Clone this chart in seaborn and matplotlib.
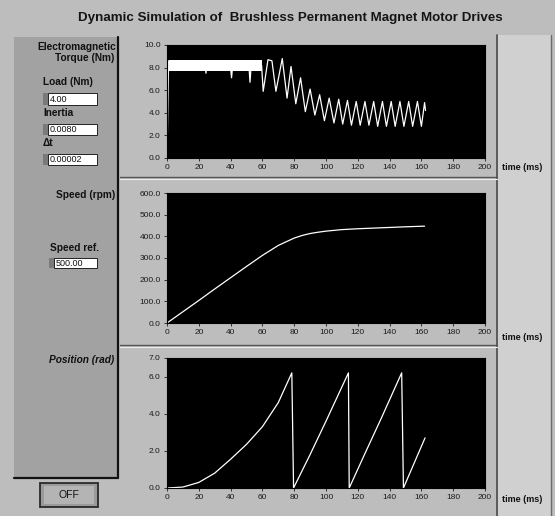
import matplotlib
matplotlib.use("Agg")
import matplotlib.pyplot as plt
import seaborn as sns
from matplotlib.patches import Rectangle

sns.set_style("ticks")
plt.rcParams['font.family'] = ['Liberation Sans', 'DejaVu Sans']

W, H = 555, 516

# ---- data ----
# electromagnetic torque (Nm) vs time (ms)
torque_t = [0.0, 1.0, 24.0, 24.5, 25.0, 39.8, 40.6, 41.4, 51.5, 52.2, 53.0, 59.5,
            60.5, 63.5, 66.0, 68.5, 72.5, 75.5, 78.0, 81.0, 84.0, 87.0, 90.0,
            93.0, 96.0, 99.0, 102.0, 105.0, 108.0, 110.5, 113.5, 116.0, 119.0,
            121.5, 124.5, 127.0, 130.0, 132.5, 135.5, 138.0, 141.0, 143.5, 146.5,
            149.0, 152.0, 154.5, 157.5, 160.0, 162.0, 162.6]
torque_v = [0.0, 8.6, 8.2, 7.5, 8.3, 8.2, 7.1, 8.3, 8.2, 6.7, 8.3, 8.2,
            5.9, 8.7, 8.6, 5.9, 8.8, 5.3, 8.1, 4.8, 7.1, 4.1, 6.1,
            3.8, 5.6, 3.3, 5.3, 3.1, 5.2, 3.0, 5.1, 2.9, 5.0,
            2.9, 5.0, 2.9, 5.0, 2.8, 5.0, 2.8, 5.0, 2.8, 5.0,
            2.8, 5.0, 2.8, 5.0, 2.8, 4.9, 4.2]
# hysteresis chopping band during acceleration
band_t = [1.0, 59.5]
band_lo = [7.7, 7.7]
band_hi = [8.7, 8.7]

# speed (rpm)
speed_t = [0, 10, 20, 30, 40, 50, 60, 70, 80, 85, 90, 95, 100, 110, 120, 130, 140, 150, 162]
speed_v = [0, 52, 104, 157, 209, 261, 312, 358, 392, 404, 413, 419, 424, 431, 435, 438, 441, 444, 447]

# rotor position (rad), wrapped at 2*pi
pos_t = [0, 10, 20, 30, 40, 50, 60, 70, 78.5, 79.6, 90, 100, 114.1, 114.6,
         125, 135, 147.6, 148.7, 162.3]
pos_v = [0, 0.05, 0.3, 0.8, 1.55, 2.35, 3.3, 4.6, 6.2, 0, 1.8, 3.6, 6.2, 0,
         1.95, 3.8, 6.2, 0, 2.7]

time_ticks = [0, 20, 40, 60, 80, 100, 120, 140, 160, 180, 200]
torque_ticks = [0, 2, 4, 6, 8, 10]
speed_ticks = [0, 100, 200, 300, 400, 500, 600]
pos_ticks = [0, 2, 4, 6, 7]

title = "Dynamic Simulation of  Brushless Permanent Magnet Motor Drives"

# ---- figure / panel background ----
fig = plt.figure(figsize=(W / 100, H / 100), dpi=100)
fig.patch.set_facecolor('#bdbdbd')

bg = fig.add_axes([0, 0, 1, 1], zorder=-10)
bg.set_xlim(0, W)
bg.set_ylim(H, 0)
bg.axis('off')

bg.add_patch(Rectangle((498, 35), 53, 481, fc='#d0d0d0', ec='none'))
bg.plot([497, 497], [35, 516], color='#4a4a4a', lw=1.2)
bg.plot([551, 551], [35, 516], color='#6a6a6a', lw=1.0)
for yy in [177, 345]:
    bg.plot([120, 497], [yy, yy], color='#555555', lw=1.0)
    bg.plot([120, 497], [yy + 1.5, yy + 1.5], color='#eeeeee', lw=0.8)

# left control panel
bg.add_patch(Rectangle((14, 37), 104, 441, fc='#a2a2a2', ec='none'))
bg.plot([118, 118], [37, 478], color='#111111', lw=1.6)
bg.plot([14, 118], [478, 478], color='#111111', lw=1.6)

lab = dict(fontsize=7.3, fontweight='bold', color='#111111', va='center')
bg.text(116, 47, "Electromagnetic", ha='right', **lab)
bg.text(114, 58, "Torque (Nm)", ha='right', **lab)
bg.text(43, 82, "Load (Nm)", ha='left', **lab)
bg.text(43, 113, "Inertia", ha='left', **lab)
bg.text(43, 143, "Δt", ha='left', **lab)
bg.text(115, 195, "Speed (rpm)", ha='right', **lab)
bg.text(50, 248, "Speed ref.", ha='left', **lab)
bg.text(114, 360, "Position (rad)", ha='right', fontstyle='italic', **lab)


def entry(x0, y0, x1, y1, txt):
    bg.add_patch(Rectangle((x0, y0), 5, y1 - y0, fc='#7a7a7a', ec='none'))
    bg.add_patch(Rectangle((x0 + 5, y0), x1 - x0 - 5, y1 - y0,
                           fc='white', ec='#222222', lw=0.7))
    bg.text(x0 + 7, (y0 + y1) / 2 + 0.5, txt, fontsize=6.5, ha='left',
            va='center', color='#111111')


entry(43, 93, 97, 105, "4.00")
entry(43, 124, 97, 135, "0.0080")
entry(43, 154, 97, 165, "0.00002")
entry(49, 258, 97, 268, "500.00")

# OFF button
bg.add_patch(Rectangle((40, 483), 58, 24, fc='#9a9a9a', ec='#2a2a2a', lw=1.3))
bg.add_patch(Rectangle((44, 486), 50, 18, fc='#b4b4b4', ec='none'))
bg.text(69, 495.5, "OFF", fontsize=7.5, ha='center', va='center', color='#111111')

bg.text(290, 18, title, ha='center', va='center', fontsize=9.6,
        fontweight='bold', color='#151515')


# ---- the three graphs ----
def px_axes(x0, y0, x1, y1):
    return fig.add_axes([x0 / W, 1 - y1 / H, (x1 - x0) / W, (y1 - y0) / H])


def style(ax, yticks, ymax, time_y):
    ax.set_facecolor('black')
    ax.set_xlim(0, 200)
    ax.set_ylim(0, ymax)
    ax.set_xticks(time_ticks)
    ax.set_yticks(yticks)
    ax.set_yticklabels([f"{v:.1f}" for v in yticks])
    ax.set_xlabel("")
    ax.set_ylabel("")
    ax.tick_params(direction='out', length=2.5, width=0.6, labelsize=6,
                   colors='#1a1a1a', pad=2)
    for s in ax.spines.values():
        s.set_color('black')
    bg.text(502, time_y, "time (ms)", fontsize=6.5, fontweight='bold',
            ha='left', va='center', color='#111111')


ax1 = px_axes(167, 45, 485, 158)
ax1.fill_between(band_t, band_lo, band_hi, color='white', lw=0)
sns.lineplot(x=torque_t, y=torque_v, ax=ax1, color='white', lw=0.9,
             estimator=None, sort=False)
style(ax1, torque_ticks, 10, 168)

ax2 = px_axes(167, 193, 485, 323)
sns.lineplot(x=speed_t, y=speed_v, ax=ax2, color='white', lw=0.9,
             estimator=None, sort=False)
style(ax2, speed_ticks, 600, 337)

ax3 = px_axes(167, 358, 485, 488)
sns.lineplot(x=pos_t, y=pos_v, ax=ax3, color='white', lw=0.9,
             estimator=None, sort=False)
style(ax3, pos_ticks, 7, 500)

fig.savefig("out.png", dpi=100, facecolor=fig.get_facecolor())
